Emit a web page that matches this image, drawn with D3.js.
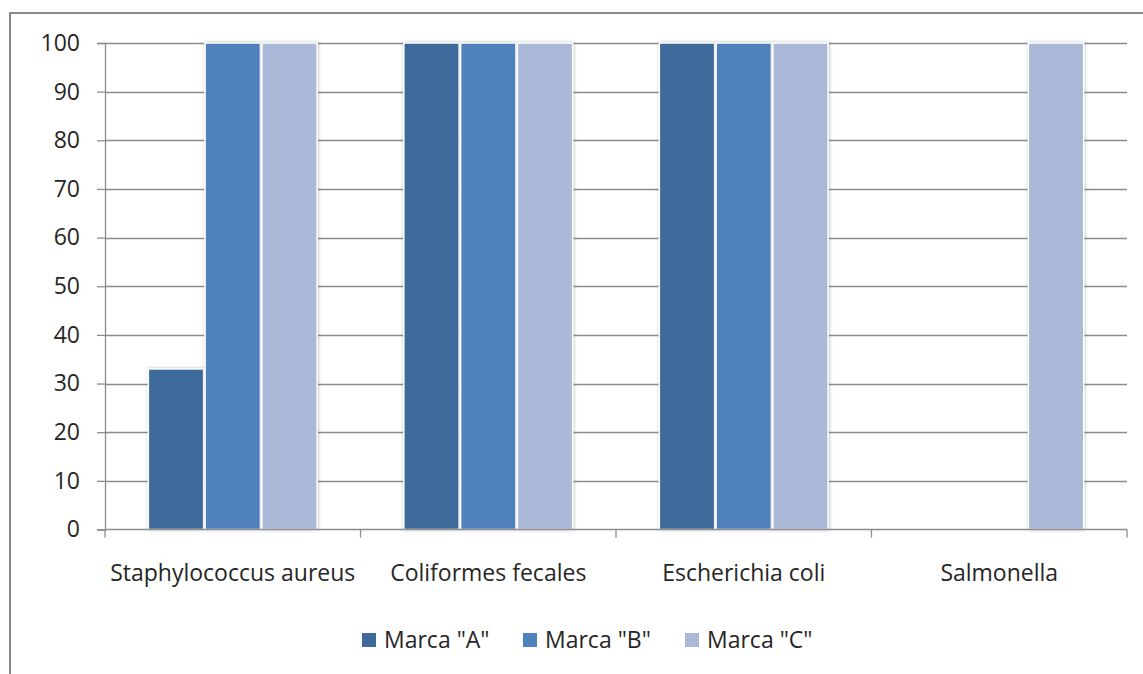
<!DOCTYPE html>
<html>
<head>
<meta charset="utf-8">
<script src="https://cdn.jsdelivr.net/npm/d3@7"></script>
<style>
  html, body { margin: 0; padding: 0; background: #fff; }
  svg { display: block; }
  text { font-family: "Open Sans", "Noto Sans", sans-serif; fill: #262626; }
</style>
</head>
<body>
<script>
// Categories and series values
const categories = ["Staphylococcus aureus", "Coliformes fecales", "Escherichia coli", "Salmonella"];
const seriesNames = ['Marca "A"', 'Marca "B"', 'Marca "C"'];
const marcaA = [33, 100, 100, 0];
const marcaB = [100, 100, 100, 0];
const marcaC = [100, 100, 100, 100];
const yTicks = [0, 10, 20, 30, 40, 50, 60, 70, 80, 90, 100];
const colors = ["#3e6a9b", "#4f81bd", "#aab9d7"];

const W = 1143, H = 674;
const plot = { left: 105, right: 1127, top: 43, bottom: 529.5 };
const FS = 23;

const svg = d3.select("body").append("svg").attr("width", W).attr("height", H);

const defs = svg.append("defs");
const f = defs.append("filter").attr("id", "shadow")
  .attr("x", "-20%").attr("y", "-5%").attr("width", "140%").attr("height", "110%");
f.append("feDropShadow").attr("dx", 0.5).attr("dy", 0).attr("stdDeviation", 1.6)
  .attr("flood-color", "#000").attr("flood-opacity", 0.3);

// outer chart frame
svg.append("rect").attr("x", 10).attr("y", 13).attr("width", W).attr("height", H)
  .attr("fill", "none").attr("stroke", "#8a8a8a").attr("stroke-width", 2);

const y = d3.scaleLinear().domain([0, 100]).range([plot.bottom, plot.top]);
const x0 = d3.scaleBand().domain(categories).range([plot.left, plot.right]).padding(0);
const stride = x0.bandwidth() / 4.5;
const x1 = d3.scaleBand().domain(seriesNames)
  .range([stride * 0.75, x0.bandwidth() - stride * 0.75]).padding(0);

// horizontal gridlines
svg.append("g").selectAll("line").data(yTicks.filter(d => d > 0)).join("line")
  .attr("x1", plot.left).attr("x2", plot.right)
  .attr("y1", d => Math.round(y(d)) + 0.5).attr("y2", d => Math.round(y(d)) + 0.5)
  .attr("stroke", "#8c8c8c").attr("stroke-width", 1.3);

// y axis
const yAxis = svg.append("g").attr("transform", `translate(${plot.left},0)`)
  .call(d3.axisLeft(y).tickValues(yTicks).tickSize(8).tickPadding(17));
yAxis.attr("font-size", null).attr("font-family", null);
yAxis.select(".domain").attr("stroke", "#8c8c8c").attr("stroke-width", 1.3);
yAxis.selectAll(".tick line").attr("stroke", "#8c8c8c").attr("stroke-width", 1.3);
yAxis.selectAll(".tick text").style("font-size", FS + "px").attr("fill", "#262626");

// bars
const data = seriesNames.map((s, i) => ({ name: s, values: [marcaA, marcaB, marcaC][i], color: colors[i] }));
const groups = svg.append("g").selectAll("g").data(categories).join("g")
  .attr("transform", d => `translate(${x0(d)},0)`);
groups.selectAll("rect")
  .data((c, ci) => data.map(s => ({ series: s.name, value: s.values[ci], color: s.color })).filter(d => d.value > 0))
  .join("rect")
  .attr("x", d => x1(d.series) + 0.75)
  .attr("width", x1.bandwidth() - 1.5)
  .attr("y", d => y(d.value))
  .attr("height", d => y(0) - y(d.value))
  .attr("fill", d => d.color)
  .attr("stroke", "#fff").attr("stroke-width", 1.5)
  .attr("filter", "url(#shadow)");

// x axis
const xAxis = svg.append("g").attr("transform", `translate(0,${plot.bottom})`);
xAxis.append("line").attr("x1", plot.left).attr("x2", plot.right)
  .attr("stroke", "#8c8c8c").attr("stroke-width", 1.3);
const bounds = categories.map(c => x0(c)).concat([plot.right]);
xAxis.selectAll("line.tk").data(bounds).join("line").attr("class", "tk")
  .attr("x1", d => d).attr("x2", d => d).attr("y1", 0).attr("y2", 8)
  .attr("stroke", "#8c8c8c").attr("stroke-width", 1.3);
xAxis.selectAll("text").data(categories).join("text")
  .attr("x", d => x0(d) + x0.bandwidth() / 2).attr("y", 51)
  .attr("text-anchor", "middle").style("font-size", FS + "px").text(d => d);

// legend
const legendX = [362, 523, 685];
const legend = svg.append("g").selectAll("g").data(data).join("g")
  .attr("transform", (d, i) => `translate(${legendX[i]},640)`);
legend.append("rect").attr("x", 0).attr("y", -7).attr("width", 14).attr("height", 14)
  .attr("fill", d => d.color);
legend.append("text").attr("x", 22).attr("y", 7.5).style("font-size", FS + "px").text(d => d.name);
</script>
</body>
</html>
